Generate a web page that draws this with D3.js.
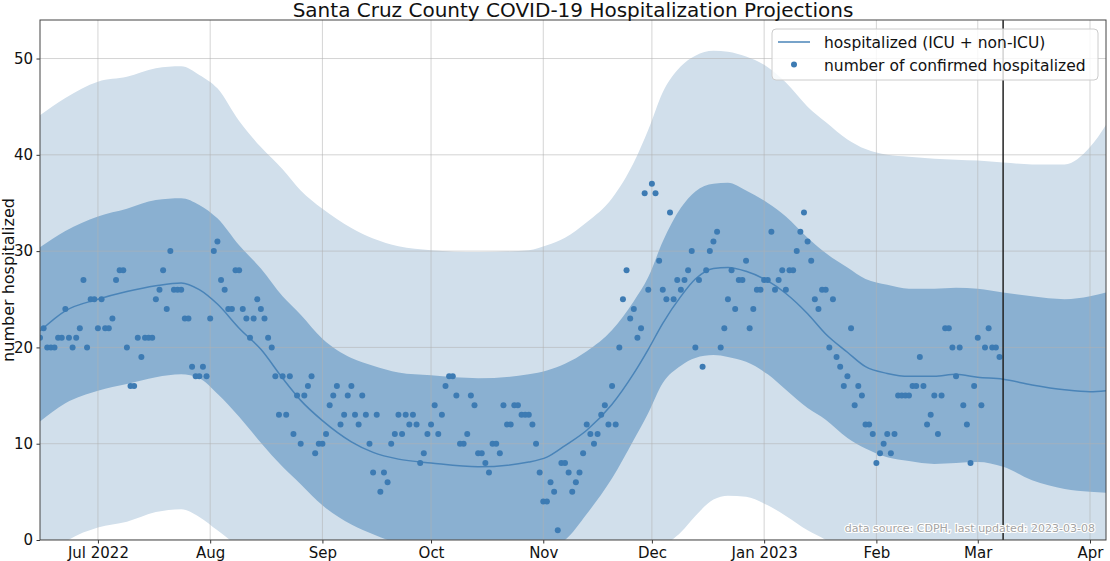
<!DOCTYPE html>
<html>
<head>
<meta charset="utf-8">
<script src="https://cdn.jsdelivr.net/npm/d3@7"></script>
<style>
  html, body { margin: 0; padding: 0; background: #fff; }
  svg { display: block; font-family: "DejaVu Sans", sans-serif; }
</style>
</head>
<body>
<div id="chart"></div>
<script>
// observed daily counts, starting 2022-06-15
const obsStart = "2022-06-15";
const observed = [
  21,22,20,20,20,21,21,24,21,20,
  21,22,27,20,25,25,22,25,22,22,
  23,27,28,28,20,16,16,21,19,21,
  21,21,25,26,28,24,30,26,26,26,
  23,23,18,17,17,18,17,23,30,31,
  27,26,24,24,28,28,24,23,21,23,
  25,24,23,21,20,17,13,17,13,17,
  11,15,10,15,16,17,9,10,10,11,
  14,15,16,12,13,15,16,13,12,15,
  13,10,7,13,5,7,6,10,11,13,
  11,13,12,13,12,8,9,11,12,14,
  11,13,16,17,17,15,10,10,11,15,
  14,9,9,8,7,10,10,9,14,12,
  12,14,14,13,13,13,12,10,7,4,
  4,6,5,1,8,8,7,5,6,7,
  9,12,11,10,11,13,14,12,16,12,
  20,25,28,23,24,21,22,36,26,37,
  36,29,26,25,34,25,27,26,27,28,
  30,20,27,18,28,30,31,32,20,22,
  25,28,24,27,27,29,22,24,26,26,
  27,27,32,26,27,28,26,28,28,30,
  32,34,31,29,25,24,26,26,20,25,
  19,18,16,17,22,14,16,15,12,12,
  11,8,9,10,11,9,11,15,15,15,
  15,16,16,19,16,12,13,15,11,15,
  22,22,20,17,20,14,12,8,16,21,
  14,20,22,20,20,19
];

// projection model output (sampled)
const projDates = [
  "2022-06-15","2022-06-22","2022-07-01","2022-07-09","2022-07-17","2022-07-24","2022-07-29",
  "2022-08-03","2022-08-09","2022-08-15","2022-08-21","2022-08-26","2022-09-01","2022-09-09",
  "2022-09-15","2022-09-22","2022-10-01","2022-10-14","2022-10-28","2022-11-02","2022-11-07",
  "2022-11-13","2022-11-20","2022-11-26","2022-11-30","2022-12-04","2022-12-09","2022-12-13",
  "2022-12-18","2022-12-22","2022-12-27","2023-01-02","2023-01-07","2023-01-13","2023-01-18",
  "2023-01-24","2023-01-29","2023-02-04","2023-02-10","2023-02-17","2023-02-23","2023-03-01",
  "2023-03-08","2023-03-16","2023-03-25","2023-04-01","2023-04-05T10:00"
];
const projMean = [
  21.7,23.8,25.0,25.8,26.4,26.7,26.0,
  24.5,22.0,19.8,16.8,14.5,12.4,10.2,
  9.1,8.4,8.0,7.6,8.1,8.6,9.8,
  11.4,14.1,17.3,19.8,22.5,25.3,27.1,
  28.2,28.3,27.9,26.9,25.6,23.5,21.4,
  19.5,18.0,17.3,17.0,17.0,17.2,16.9,
  16.7,16.1,15.6,15.4,15.5
];
const innerLo = [
  12.3,14.2,15.5,16.2,16.9,17.2,16.8,
  15.2,12.8,10.1,7.6,5.8,3.6,1.6,
  0.6,-0.4,-1.3,-1.7,-1.2,-0.9,0.0,
  2.7,6.4,10.4,13.2,16.3,18.1,18.9,
  19.2,19.0,18.5,17.2,15.6,13.7,12.5,
  10.6,9.5,8.6,8.2,7.9,8.0,8.1,
  7.6,6.2,5.3,5.0,4.9
];
const innerHi = [
  30.4,32.1,33.6,34.4,35.3,35.5,34.8,
  33.4,30.6,28.2,25.3,23.4,20.9,18.9,
  18.1,17.4,17.1,16.8,17.2,17.6,18.3,
  19.6,21.8,24.8,27.3,31.0,34.5,36.2,
  37.0,37.1,36.3,35.0,33.6,31.4,29.8,
  28.3,27.1,26.5,26.1,26.1,26.2,26.1,
  25.7,25.3,25.0,25.3,25.7
];
const outerLo = [
  -2.5,-0.2,1.3,1.9,2.9,3.2,2.4,
  1.0,-0.8,-3.0,-5.5,-7.0,-9.0,-11.0,
  -12.0,-12.5,-13.0,-13.5,-13.0,-12.5,-11.5,
  -10.0,-7.5,-4.5,-2.5,-0.8,0.8,2.5,
  4.2,4.6,4.5,3.6,2.5,1.0,0.0,
  -1.5,-2.5,-3.2,-3.5,-3.7,-3.7,-3.8,
  -4.0,-5.0,-5.5,-5.7,-5.8
];
const outerHi = [
  44.1,45.9,47.6,48.1,49.0,49.2,48.3,
  46.9,43.5,40.8,38.5,36.3,34.4,32.4,
  31.3,30.5,30.1,29.9,30.1,30.6,31.4,
  33.0,35.5,39.2,42.6,46.5,49.2,50.3,
  50.8,50.7,50.2,49.1,47.5,45.0,43.4,
  41.6,40.6,40.0,39.8,39.6,39.5,39.4,
  39.2,39.0,39.0,40.8,43.1
];

const yTicks = [0, 10, 20, 30, 40, 50];
const lastUpdated = "2023-03-08";

const W = 1110, H = 561;
const margin = { top: 20, right: 4, bottom: 21, left: 40 };
const width = W - margin.left - margin.right;
const height = H - margin.top - margin.bottom;

const parse = d3.isoParse;
const dayMs = 24 * 3600 * 1000;
const t0 = parse(obsStart);
const obs = observed.map((v, i) => ({ date: new Date(t0.getTime() + i * dayMs), value: v }));
const proj = projDates.map((d, i) => ({
  date: parse(d), mean: projMean[i],
  ilo: innerLo[i], ihi: innerHi[i], olo: outerLo[i], ohi: outerHi[i]
}));

const svg = d3.select("#chart").append("svg")
  .attr("width", W).attr("height", H);

const x = d3.scaleTime()
  .domain([parse("2022-06-15"), parse("2023-04-05T10:00")])
  .range([0, width]);
const y = d3.scaleLinear().domain([0, 54]).range([height, 0]);

const g = svg.append("g").attr("transform", `translate(${margin.left},${margin.top})`);

g.append("clipPath").attr("id", "plotclip")
  .append("rect").attr("width", width).attr("height", height);

const plot = g.append("g").attr("clip-path", "url(#plotclip)");

// bands
const band = (lo, hi) => d3.area()
  .x(d => x(d.date)).y0(d => y(d[lo])).y1(d => y(d[hi]))
  .curve(d3.curveMonotoneX);

plot.append("path").datum(proj)
  .attr("fill", "#d1dfeb")
  .attr("d", band("olo", "ohi"));
plot.append("path").datum(proj)
  .attr("fill", "#8ab0d1")
  .attr("d", band("ilo", "ihi"));

// grid
const months = x.ticks(d3.timeMonth.every(1));
plot.append("g").selectAll("line").data(months).join("line")
  .attr("x1", d => x(d)).attr("x2", d => x(d))
  .attr("y1", 0).attr("y2", height)
  .attr("stroke", "#b0b0b0").attr("stroke-opacity", 0.55);
plot.append("g").selectAll("line").data(yTicks).join("line")
  .attr("x1", 0).attr("x2", width)
  .attr("y1", d => y(d)).attr("y2", d => y(d))
  .attr("stroke", "#b0b0b0").attr("stroke-opacity", 0.55);

// model line
plot.append("path").datum(proj)
  .attr("fill", "none")
  .attr("stroke", "#4a84b8")
  .attr("stroke-width", 1.5)
  .attr("d", d3.line().x(d => x(d.date)).y(d => y(d.mean)).curve(d3.curveMonotoneX));

// observed dots
plot.append("g").selectAll("circle").data(obs).join("circle")
  .attr("cx", d => x(d.date))
  .attr("cy", d => y(d.value))
  .attr("r", 3)
  .attr("fill", "#3d7bb3");

// last updated marker
const xu = x(parse(lastUpdated));
g.append("line")
  .attr("x1", xu).attr("x2", xu).attr("y1", 0).attr("y2", height)
  .attr("stroke", "#222").attr("stroke-width", 1.5);

// axes
const fmt = d => (d.getMonth() === 6 || d.getMonth() === 0) ? d3.timeFormat("%b %Y")(d) : d3.timeFormat("%b")(d);
const xAxis = g.append("g")
  .attr("transform", `translate(0,${height})`)
  .call(d3.axisBottom(x).ticks(d3.timeMonth.every(1)).tickFormat(fmt).tickSize(3.5).tickPadding(3.5));
const yAxis = g.append("g")
  .call(d3.axisLeft(y).tickValues(yTicks).tickSize(3.5).tickPadding(3.5));

[xAxis, yAxis].forEach(a => {
  a.select(".domain").remove();
  a.selectAll("line").attr("stroke", "#333");
  a.selectAll("text").attr("font-size", 15).attr("fill", "#111")
    .attr("font-family", "DejaVu Sans, sans-serif");
});

// frame
g.append("rect").attr("width", width).attr("height", height)
  .attr("fill", "none").attr("stroke", "#444").attr("stroke-width", 1);

// labels
svg.append("text")
  .attr("x", margin.left + width / 2).attr("y", 16.5)
  .attr("text-anchor", "middle").attr("font-size", 20).attr("fill", "#111")
  .text("Santa Cruz County COVID-19 Hospitalization Projections");

svg.append("text")
  .attr("transform", `translate(8,${margin.top + height / 2}) rotate(-90)`)
  .attr("text-anchor", "middle").attr("dy", "0.35em")
  .attr("font-size", 16).attr("fill", "#111")
  .text("number hospitalized");

g.append("text")
  .attr("x", width - 11).attr("y", height - 8)
  .attr("text-anchor", "end").attr("font-size", 11)
  .attr("fill", "#a3a3a3").attr("stroke", "#fff").attr("stroke-width", 2.2)
  .attr("paint-order", "stroke")
  .text(`data source: CDPH, last updated: ${lastUpdated}`);

// legend
const lg = svg.append("g").attr("transform", "translate(772,29)");
lg.append("rect").attr("width", 326).attr("height", 51).attr("rx", 4)
  .attr("fill", "#fff").attr("fill-opacity", 0.8)
  .attr("stroke", "#ccc").attr("stroke-width", 1);
lg.append("line").attr("x1", 6).attr("x2", 38).attr("y1", 13).attr("y2", 13)
  .attr("stroke", "#4a84b8").attr("stroke-width", 1.5);
lg.append("circle").attr("cx", 22).attr("cy", 35.5).attr("r", 3).attr("fill", "#3d7bb3");
lg.append("text").attr("x", 52).attr("y", 19).attr("font-size", 15.5).attr("fill", "#111")
  .text("hospitalized (ICU + non-ICU)");
lg.append("text").attr("x", 52).attr("y", 41.5).attr("font-size", 15.5).attr("fill", "#111")
  .text("number of confirmed hospitalized");
</script>
</body>
</html>
